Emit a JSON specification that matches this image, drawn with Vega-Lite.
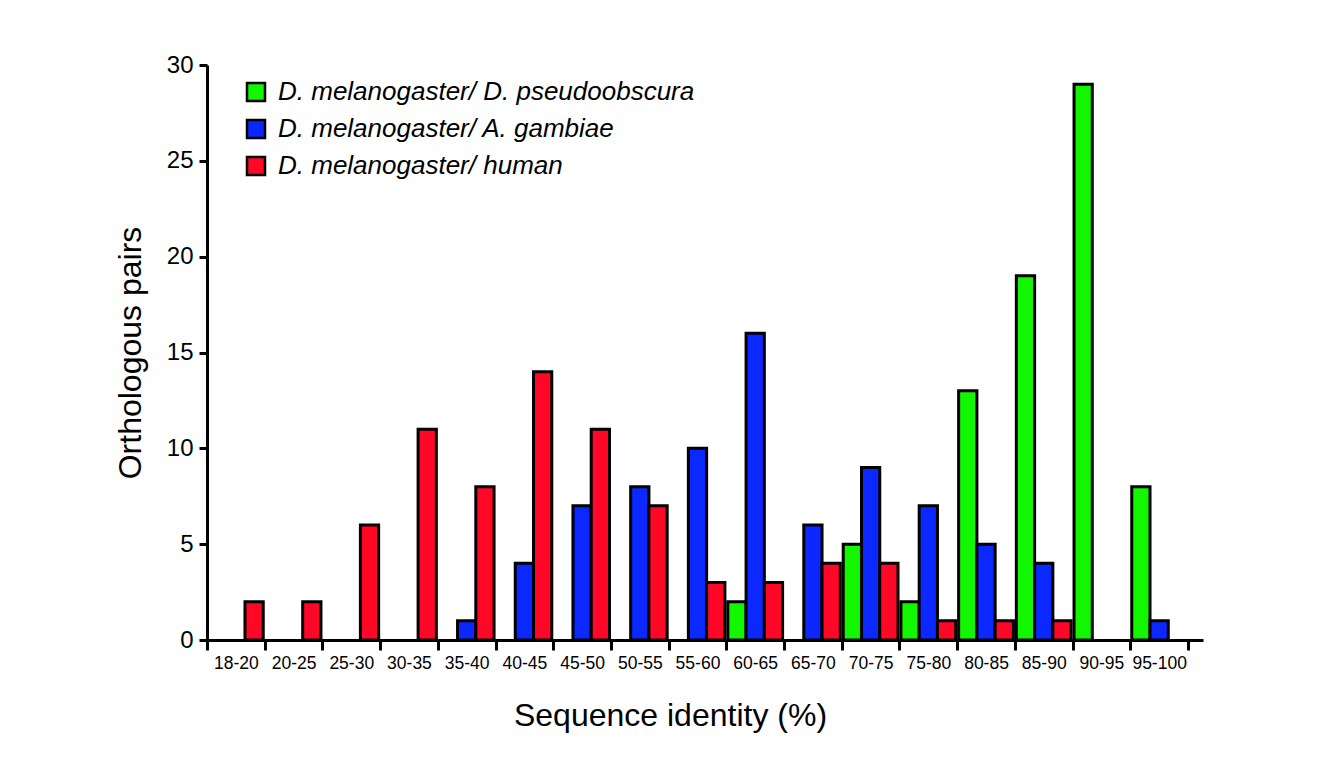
{
  "$schema": "https://vega.github.io/schema/vega-lite/v6.json",
  "width": 996,
  "height": 575,
  "autosize": {"type": "none"},
  "padding": {"left": 207, "top": 65, "right": 131, "bottom": 119},
  "background": "white",
  "config": {"view": {"stroke": null}, "font": "Liberation Sans"},
  "data": {
    "values": [
      {"range": "18-20", "series": "D. melanogaster/ human", "count": 2},
      {"range": "20-25", "series": "D. melanogaster/ human", "count": 2},
      {"range": "25-30", "series": "D. melanogaster/ human", "count": 6},
      {"range": "30-35", "series": "D. melanogaster/ human", "count": 11},
      {"range": "35-40", "series": "D. melanogaster/ A. gambiae", "count": 1},
      {"range": "35-40", "series": "D. melanogaster/ human", "count": 8},
      {"range": "40-45", "series": "D. melanogaster/ A. gambiae", "count": 4},
      {"range": "40-45", "series": "D. melanogaster/ human", "count": 14},
      {"range": "45-50", "series": "D. melanogaster/ A. gambiae", "count": 7},
      {"range": "45-50", "series": "D. melanogaster/ human", "count": 11},
      {"range": "50-55", "series": "D. melanogaster/ A. gambiae", "count": 8},
      {"range": "50-55", "series": "D. melanogaster/ human", "count": 7},
      {"range": "55-60", "series": "D. melanogaster/ A. gambiae", "count": 10},
      {"range": "55-60", "series": "D. melanogaster/ human", "count": 3},
      {"range": "60-65", "series": "D. melanogaster/ D. pseudoobscura", "count": 2},
      {"range": "60-65", "series": "D. melanogaster/ A. gambiae", "count": 16},
      {"range": "60-65", "series": "D. melanogaster/ human", "count": 3},
      {"range": "65-70", "series": "D. melanogaster/ A. gambiae", "count": 6},
      {"range": "65-70", "series": "D. melanogaster/ human", "count": 4},
      {"range": "70-75", "series": "D. melanogaster/ D. pseudoobscura", "count": 5},
      {"range": "70-75", "series": "D. melanogaster/ A. gambiae", "count": 9},
      {"range": "70-75", "series": "D. melanogaster/ human", "count": 4},
      {"range": "75-80", "series": "D. melanogaster/ D. pseudoobscura", "count": 2},
      {"range": "75-80", "series": "D. melanogaster/ A. gambiae", "count": 7},
      {"range": "75-80", "series": "D. melanogaster/ human", "count": 1},
      {"range": "80-85", "series": "D. melanogaster/ D. pseudoobscura", "count": 13},
      {"range": "80-85", "series": "D. melanogaster/ A. gambiae", "count": 5},
      {"range": "80-85", "series": "D. melanogaster/ human", "count": 1},
      {"range": "85-90", "series": "D. melanogaster/ D. pseudoobscura", "count": 19},
      {"range": "85-90", "series": "D. melanogaster/ A. gambiae", "count": 4},
      {"range": "85-90", "series": "D. melanogaster/ human", "count": 1},
      {"range": "90-95", "series": "D. melanogaster/ D. pseudoobscura", "count": 29},
      {"range": "95-100", "series": "D. melanogaster/ D. pseudoobscura", "count": 8},
      {"range": "95-100", "series": "D. melanogaster/ A. gambiae", "count": 1}
    ]
  },
  "mark": {"type": "bar", "stroke": "black", "strokeWidth": 3},
  "encoding": {
    "x": {
      "field": "range",
      "type": "nominal",
      "scale": {
        "domain": ["18-20", "20-25", "25-30", "30-35", "35-40", "40-45", "45-50", "50-55", "55-60", "60-65", "65-70", "70-75", "75-80", "80-85", "85-90", "90-95", "95-100"],
        "paddingInner": 0,
        "paddingOuter": 0.13,
        "align": 0
      },
      "axis": {
        "title": "Sequence identity (%)",
        "labelAngle": 0,
        "tickBand": "extent",
        "domainColor": "black",
        "domainWidth": 3,
        "tickColor": "black",
        "tickWidth": 3,
        "tickSize": 10,
        "labelFontSize": 17.5,
        "labelColor": "black",
        "labelPadding": 4,
        "titleFontSize": 32,
        "titleFontWeight": "normal",
        "titleColor": "black",
        "titleX": 463,
        "titleY": 60,
        "titleAlign": "center",
        "titleBaseline": "top"
      }
    },
    "xOffset": {
      "field": "series",
      "type": "nominal",
      "scale": {
        "domain": ["D. melanogaster/ D. pseudoobscura", "D. melanogaster/ A. gambiae", "D. melanogaster/ human"],
        "paddingInner": 0,
        "paddingOuter": 0.08
      }
    },
    "y": {
      "field": "count",
      "type": "quantitative",
      "scale": {"domain": [0, 30], "nice": false},
      "axis": {
        "values": [0, 5, 10, 15, 20, 25, 30],
        "title": "Orthologous pairs",
        "grid": false,
        "domainColor": "black",
        "domainWidth": 3,
        "tickColor": "black",
        "tickWidth": 3,
        "tickSize": 8,
        "labelFontSize": 24,
        "labelColor": "black",
        "labelPadding": 6,
        "titleFontSize": 32,
        "titleFontWeight": "normal",
        "titleColor": "black",
        "titlePadding": 19
      }
    },
    "color": {
      "field": "series",
      "type": "nominal",
      "scale": {
        "domain": ["D. melanogaster/ D. pseudoobscura", "D. melanogaster/ A. gambiae", "D. melanogaster/ human"],
        "range": ["#12F700", "#0A28FF", "#FF0828"]
      },
      "legend": {
        "orient": "none",
        "legendX": 36,
        "legendY": 14,
        "title": null,
        "symbolType": "square",
        "symbolSize": 324,
        "symbolStrokeColor": "black",
        "symbolStrokeWidth": 2.5,
        "symbolOpacity": 1,
        "labelFontSize": 26,
        "labelFontStyle": "italic",
        "labelColor": "black",
        "labelOffset": 9,
        "rowPadding": 9,
        "padding": 0,
        "labelLimit": 0
      }
    }
  }
}
